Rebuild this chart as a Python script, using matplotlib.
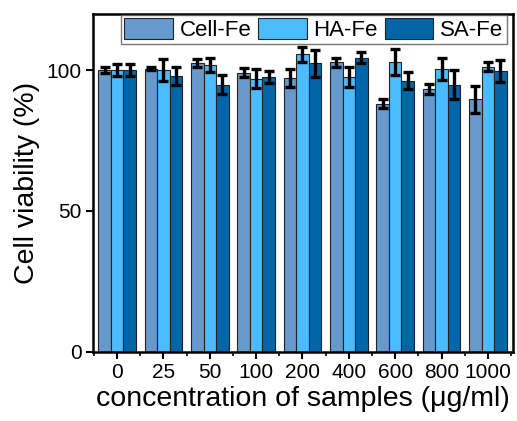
import numpy as np
import matplotlib
matplotlib.use('Agg')
import matplotlib.pyplot as plt

plt.rcParams['font.family'] = ['Liberation Sans', 'DejaVu Sans']

concentrations = ['0', '25', '50', '100', '200', '400', '600', '800', '1000']
series_names = ['Cell-Fe', 'HA-Fe', 'SA-Fe']
cell_fe = [100.0, 100.5, 102.6, 99.1, 97.3, 102.8, 88.0, 93.4, 89.6]
cell_fe_err = [1.0, 0.5, 1.3, 1.5, 3.2, 1.7, 1.6, 1.8, 4.7]
ha_fe = [100.0, 100.0, 101.8, 96.9, 105.6, 97.5, 103.0, 100.5, 101.3]
ha_fe_err = [2.2, 4.0, 2.5, 3.4, 2.6, 3.6, 4.6, 3.9, 1.7]
sa_fe = [100.0, 97.9, 94.8, 97.6, 102.4, 104.4, 96.3, 94.8, 99.6]
sa_fe_err = [2.2, 3.3, 3.4, 2.2, 4.7, 2.0, 3.0, 5.2, 3.9]
colors = ['#6699CC', '#4DBBFF', '#0066A8']

fig = plt.figure(figsize=(5.17, 4.21), dpi=100)
ax = fig.add_axes([0.180, 0.165, 0.812, 0.802])

index = np.arange(len(concentrations))
bar_width = 0.27
values = [cell_fe, ha_fe, sa_fe]
errors = [cell_fe_err, ha_fe_err, sa_fe_err]

for k in range(3):
    ax.bar(index + (k - 1) * bar_width, values[k], width=bar_width, color=colors[k],
           edgecolor='#222222', linewidth=0.8, label=series_names[k],
           yerr=errors[k], capsize=3.8,
           error_kw={'elinewidth': 2.4, 'capthick': 2.4, 'ecolor': 'black'})

ax.set_xlim(-0.52, 8.54)
ax.set_ylim(0, 120)
ax.set_xticks(index)
ax.set_xticklabels(concentrations)
ax.set_xticks(np.concatenate([[-0.5], index + 0.5]), minor=True)
ax.set_yticks([0, 50, 100])

ax.tick_params(axis='both', which='major', direction='out', length=5, width=1.5,
               labelsize=15, pad=3)
ax.tick_params(axis='x', which='minor', direction='out', length=3, width=1.2)
for s in ax.spines.values():
    s.set_linewidth(1.8)

ax.set_xlabel('concentration of samples (μg/ml)', fontsize=20.5, labelpad=3)
ax.set_ylabel('Cell viability (%)', fontsize=20.5, labelpad=5)

leg = ax.legend(loc='upper right', ncol=3, fontsize=16, frameon=True, fancybox=False,
                edgecolor='#555555', handlelength=2.2, handleheight=1.1,
                columnspacing=0.3, handletextpad=0.3, borderpad=0.15,
                borderaxespad=0.0, bbox_to_anchor=(0.985, 0.998))
leg.get_frame().set_linewidth(1.0)

fig.savefig('out.png', dpi=100)
